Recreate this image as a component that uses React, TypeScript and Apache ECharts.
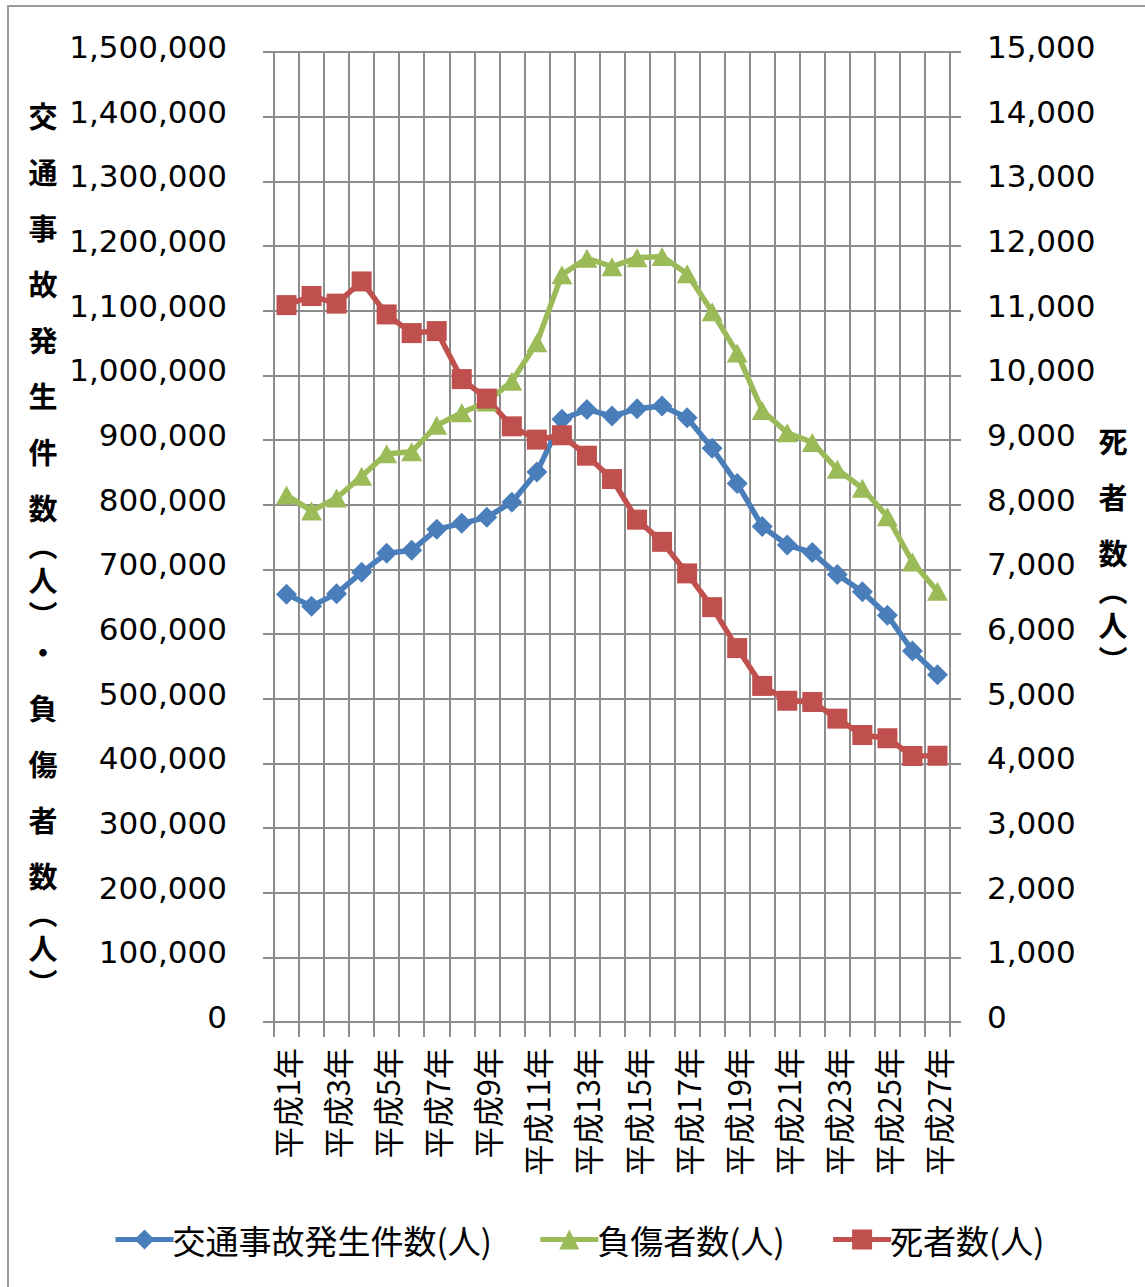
import React, { useEffect, useRef } from "react";
import * as echarts from "echarts";

const categories: string[] = Array.from({ length: 27 }, (_, i) => `平成${i + 1}年`);

const accidents: number[] = [
  661363, 643097, 662392, 695345, 724678, 729461, 761794, 771085, 780401, 803882,
  850371, 931950, 947253, 936950, 948281, 952720, 934346, 887267, 832704, 766394,
  737637, 725924, 692084, 665157, 629033, 573842, 536899,
];

const injured: number[] = [
  814832, 790295, 810245, 844003, 878633, 881723, 922677, 942204, 958925, 990675,
  1050399, 1155707, 1181039, 1168029, 1181681, 1183617, 1157113, 1098199, 1034652, 945703,
  911215, 896297, 854613, 825396, 781492, 711374, 666023,
];

const deaths: number[] = [
  11086, 11227, 11109, 11452, 10942, 10653, 10684, 9942, 9640, 9211,
  9006, 9073, 8757, 8396, 7768, 7425, 6937, 6415, 5782, 5197,
  4968, 4948, 4691, 4438, 4388, 4113, 4117,
];

const seriesNames = ["交通事故発生件数(人)", "負傷者数(人)", "死者数(人)"];

// vertical axis titles: [character, rich style key]
const leftTitle: [string, string][] = [
  ["交", "n"], ["通", "n"], ["事", "n"], ["故", "n"], ["発", "n"], ["生", "n"], ["件", "n"], ["数", "n"],
  ["︵", "p"], ["人", "m"], ["︶", "p"], ["・", "n"],
  ["負", "n"], ["傷", "n"], ["者", "n"], ["数", "n"], ["︵", "p"], ["人", "m"], ["︶", "p"],
];
const rightTitle: [string, string][] = [
  ["死", "n"], ["者", "n"], ["数", "n"], ["︵", "p"], ["人", "m"], ["︶", "p"],
];

const GRID = "#8c8c8c";
const NUM_FONT = "'DejaVu Sans', Verdana, sans-serif";
const JP_FONT = "'Noto Sans CJK JP', sans-serif";

export default function App() {
  const ref = useRef<HTMLDivElement>(null);
  useEffect(() => {
    if (!ref.current) return;
    const chart = echarts.init(ref.current, undefined, { renderer: "svg" });
    const fmt = (v: number) => v.toLocaleString("en-US");
    const tokenStyle = (lh: number) => ({
      fontSize: 29,
      fontWeight: "bold",
      fontFamily: JP_FONT,
      color: "#000",
      lineHeight: lh,
      align: "center",
    });
    const vTitle = (chars: [string, string][], x: number, y: number) => ({
      type: "text",
      x,
      y,
      style: {
        text: chars.map(([c, k]) => `{${k}|${c}}`).join("\n"),
        rich: { n: tokenStyle(56), m: tokenStyle(52), p: tokenStyle(18) },
        align: "center",
        verticalAlign: "top",
      },
    });
    chart.setOption({
      animation: false,
      backgroundColor: "#fff",
      grid: { left: 274, right: 195, top: 52, bottom: 265, containLabel: false },
      graphic: [
        {
          type: "rect",
          shape: { x: 8, y: 6, width: 1160, height: 1320 },
          style: { fill: "none", stroke: "#9a9a9a", lineWidth: 2 },
          silent: true,
        },
        vTitle(leftTitle, 43, 87),
        vTitle(rightTitle, 1113, 412),
      ],
      legend: {
        top: 1218,
        left: 108,
        itemWidth: 58,
        itemHeight: 25,
        itemGap: 46,
        lineStyle: { width: 5 },
        textStyle: { fontSize: 33, fontFamily: JP_FONT, color: "#000", padding: [0, 0, 0, -6] },
        data: seriesNames,
      },
      xAxis: {
        type: "category",
        data: categories,
        boundaryGap: true,
        axisLine: { show: true, lineStyle: { color: GRID, width: 2 } },
        axisTick: { show: true, interval: 0, length: 15, lineStyle: { color: GRID, width: 2 } },
        splitLine: { show: true, interval: 0, lineStyle: { color: GRID, width: 2 } },
        axisLabel: {
          interval: 1,
          rotate: 90,
          margin: 26,
          fontSize: 31,
          fontFamily: JP_FONT,
          color: "#000",
        },
      },
      yAxis: [
        {
          type: "value",
          min: 0,
          max: 1500000,
          interval: 100000,
          axisLine: { show: true, lineStyle: { color: GRID, width: 2 } },
          axisTick: { show: true, length: 11, lineStyle: { color: GRID, width: 2 } },
          splitLine: { show: true, lineStyle: { color: GRID, width: 2 } },
          axisLabel: {
            formatter: fmt,
            margin: 47,
            fontSize: 31,
            fontFamily: NUM_FONT,
            color: "#000",
            verticalAlign: "bottom",
            lineHeight: 10,
          },
        },
        {
          type: "value",
          min: 0,
          max: 15000,
          interval: 1000,
          position: "right",
          axisLine: { show: true, lineStyle: { color: GRID, width: 2 } },
          axisTick: { show: true, length: 11, lineStyle: { color: GRID, width: 2 } },
          splitLine: { show: false },
          axisLabel: {
            formatter: fmt,
            margin: 37,
            fontSize: 31,
            fontFamily: NUM_FONT,
            color: "#000",
            verticalAlign: "bottom",
            lineHeight: 10,
          },
        },
      ],
      series: [
        {
          name: seriesNames[0],
          type: "line",
          yAxisIndex: 0,
          data: accidents,
          symbol: "diamond",
          symbolSize: 21,
          showSymbol: true,
          showAllSymbol: true,
          itemStyle: { color: "#4A7EBB" },
          lineStyle: { color: "#4A7EBB", width: 5.5 },
        },
        {
          name: seriesNames[1],
          type: "line",
          yAxisIndex: 0,
          data: injured,
          symbol: "triangle",
          symbolSize: [21, 19],
          showSymbol: true,
          showAllSymbol: true,
          itemStyle: { color: "#9BBB59" },
          lineStyle: { color: "#9BBB59", width: 5.5 },
        },
        {
          name: seriesNames[2],
          type: "line",
          yAxisIndex: 1,
          data: deaths,
          symbol: "rect",
          symbolSize: 20,
          showSymbol: true,
          showAllSymbol: true,
          itemStyle: { color: "#C0504D" },
          lineStyle: { color: "#C0504D", width: 5.5 },
        },
      ],
    });
    return () => chart.dispose();
  }, []);
  return (
    <div
      ref={ref}
      style={{ position: "absolute", left: 0, top: 0, width: 1145, height: 1287 }}
    />
  );
}
